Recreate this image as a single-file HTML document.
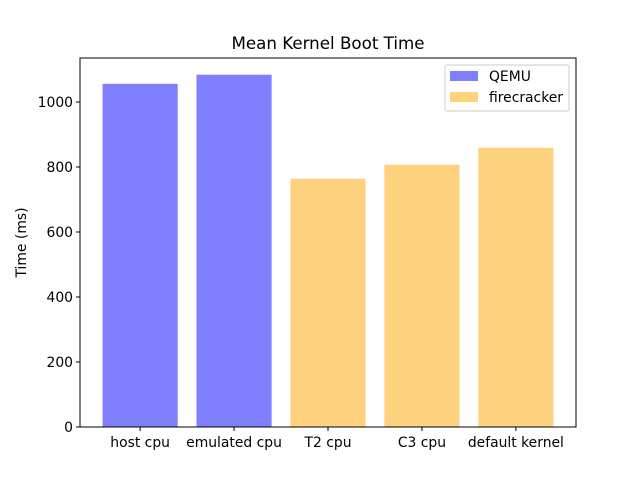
<!DOCTYPE html>
<html><head><meta charset="utf-8"><style>
body{margin:0;background:#fff;}
svg{display:block;font-family:"DejaVu Sans","Liberation Sans",sans-serif;}
</style></head><body>
<svg id="chart" width="640" height="480" viewBox="0 0 640 480">
<rect width="640" height="480" fill="#fff"/>
<text x="328" y="49" font-size="16.7" text-anchor="middle">Mean Kernel Boot Time</text>
<text transform="translate(26,242.5) rotate(-90)" font-size="13.9" text-anchor="middle">Time (ms)</text>
<g id="bars"></g>
<g id="axes"></g>
<g>
<rect x="445" y="65" width="124" height="46" fill="#fff" fill-opacity="0.8" stroke="#ccc" rx="2"/>
<rect x="450" y="71" width="28" height="10" fill="#8080ff"/>
<text x="489" y="81" font-size="13.9">QEMU</text>
<rect x="450" y="92" width="28" height="10" fill="#ffd280"/>
<text x="489" y="102" font-size="13.9">firecracker</text>
</g>
</svg>
<script>
const categories=["host cpu","emulated cpu","T2 cpu","C3 cpu","default kernel"];
const values=[1056,1084,764,807,859];
const groups=["QEMU","QEMU","firecracker","firecracker","firecracker"];
const yTicks=[0,200,400,600,800,1000];
const L=80,R=576,T=58,B=427,ymax=1135.4,xmin=-0.64,xmax=4.64;
const ns="http://www.w3.org/2000/svg";
const sx=v=>L+(v-xmin)/(xmax-xmin)*(R-L);
const sy=v=>B-v/ymax*(B-T);
function mk(tag,attrs,parent){const e=document.createElementNS(ns,tag);for(const k in attrs)e.setAttribute(k,attrs[k]);parent.appendChild(e);return e;}
const bars=document.getElementById('bars'),axes=document.getElementById('axes');
categories.forEach((c,i)=>{
 const r=mk('rect',{x:sx(i-0.4),y:sy(values[i]),width:sx(0.8)-sx(0),height:B-sy(values[i]),fill:groups[i]==="QEMU"?"#8080ff":"#ffd280"},bars);
 
 
 mk('line',{x1:sx(i),x2:sx(i),y1:B,y2:B+4,stroke:"#000"},axes);
 const t=mk('text',{x:sx(i),y:B+20,"font-size":13.9,"text-anchor":"middle"},axes);
 t.textContent=c;
 
 
});
yTicks.forEach(v=>{
 mk('line',{x1:L-4,x2:L,y1:sy(v),y2:sy(v),stroke:"#000"},axes);
 const t=mk('text',{x:L-7,y:sy(v)+5,"font-size":13.9,"text-anchor":"end"},axes);
 t.textContent=v;
 
 
});
const f=mk('rect',{x:L,y:T,width:R-L,height:B-T,fill:"none",stroke:"#000","stroke-width":1},axes);


</script>
</body></html>
